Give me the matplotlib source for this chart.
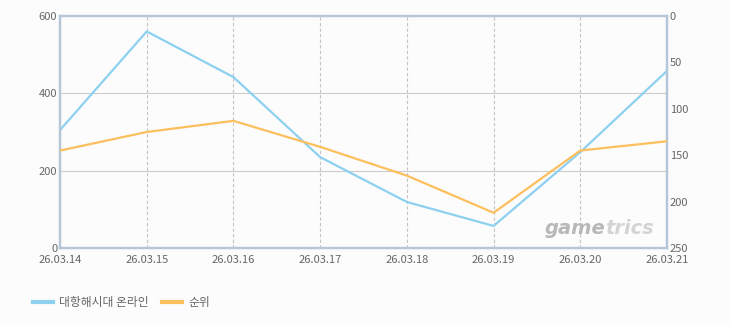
import matplotlib.pyplot as plt
from matplotlib.lines import Line2D

plt.rcParams['font.family'] = ['Noto Sans CJK KR', 'DejaVu Sans']

dates = ['26.03.14', '26.03.15', '26.03.16', '26.03.17',
         '26.03.18', '26.03.19', '26.03.20', '26.03.21']
users = [305, 560, 442, 235, 119, 57, 248, 458]
rank = [145, 125, 113, 141, 172, 212, 145, 135]

blue = '#8dd0f0'
orange = '#fcbf5e'
spine_col = '#b4c6d8'
txt = '#666666'

fig = plt.figure(figsize=(7.3, 3.25), dpi=100, facecolor='#fcfcfc')
ax = fig.add_axes([60 / 730, 1 - 248 / 325, 607 / 730, 232 / 325])
ax.set_facecolor('#fcfcfc')
x = list(range(len(dates)))
ax.plot(x, users, color=blue, lw=1.6, zorder=3)
ax.set_xlim(0, len(dates) - 1)
ax.set_ylim(0, 600)
ax.set_yticks([0, 200, 400, 600])
ax.set_xticks(x)
ax.set_xticklabels(dates)
ax.grid(axis='y', color='#cccccc', lw=0.8)
ax.grid(axis='x', color='#c4c4c4', lw=0.8, ls=(0, (3, 2)))
ax.tick_params(axis='y', colors=txt, labelsize=8, length=0, pad=2)
ax.tick_params(axis='x', colors=txt, labelsize=8, length=0, pad=5)
for s in ax.spines.values():
    s.set_color(spine_col)
    s.set_linewidth(1.6)

ax2 = ax.twinx()
ax2.plot(x, rank, color=orange, lw=1.6, zorder=3)
ax2.set_ylim(250, 0)
ax2.set_yticks([0, 50, 100, 150, 200, 250])
ax2.tick_params(colors=txt, labelsize=8, length=0, pad=2)
for s in ax2.spines.values():
    s.set_color(spine_col)
    s.set_linewidth(1.6)

# watermark
ax.text(0.898, 0.085, 'game', transform=ax.transAxes, ha='right', va='center',
        fontsize=14, fontweight='bold', style='italic', color='#b8b8b8',
        family='DejaVu Sans')
ax.text(0.898, 0.085, 'trics', transform=ax.transAxes, ha='left', va='center',
        fontsize=14, fontweight='bold', style='italic', color='#d4d4d4',
        family='DejaVu Sans')

handles = [Line2D([], [], color=blue, lw=3), Line2D([], [], color=orange, lw=3)]
fig.legend(handles, ['대항해시대 온라인', '순위'], loc='lower left',
           bbox_to_anchor=(22 / 730, 5 / 325), ncol=2, frameon=False,
           fontsize=8.5, labelcolor=txt, handlelength=1.7, handletextpad=0.5,
           columnspacing=1.2)

fig.savefig('out.png', dpi=100, facecolor=fig.get_facecolor())
